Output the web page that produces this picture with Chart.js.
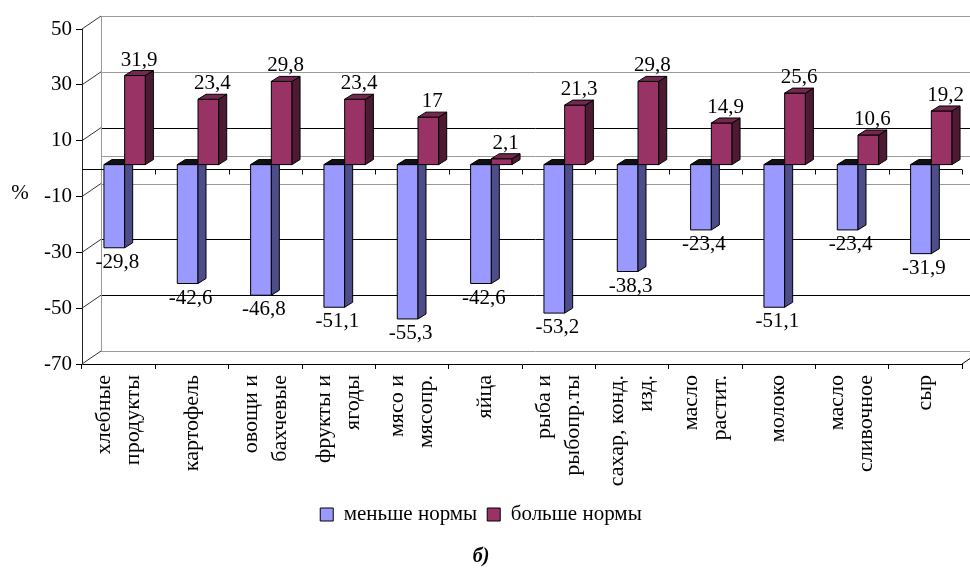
<!DOCTYPE html>
<html>
<head>
<meta charset="utf-8">
<script src="https://cdn.jsdelivr.net/npm/chart.js@4/dist/chart.umd.min.js"></script>
<style>
  html, body { margin: 0; padding: 0; background: #fff; }
  #wrap { width: 970px; height: 569px; }
</style>
</head>
<body>
<div id="wrap"><canvas id="chart" width="970" height="569"></canvas></div>
<script>
// Категории продуктов (подписи оси X, по строкам)
const categories = [
  ["хлебные", "продукты"], ["картофель"], ["овощи и", "бахчевые"], ["фрукты и", "ягоды"],
  ["мясо и", "мясопр."], ["яйца"], ["рыба и", "рыбопр.ты"], ["сахар, конд.", "изд."],
  ["масло", "растит."], ["молоко"], ["масло", "сливочное"], ["сыр"]
];
// Отклонение от нормы потребления, %
const belowNorm = [-29.8, -42.6, -46.8, -51.1, -55.3, -42.6, -53.2, -38.3, -23.4, -51.1, -23.4, -31.9];
const aboveNorm = [31.9, 23.4, 29.8, 23.4, 17, 2.1, 21.3, 29.8, 14.9, 25.6, 10.6, 19.2];
const seriesNames = ["меньше нормы", "больше нормы"];
const yTicks = [-70, -50, -30, -10, 10, 30, 50];
const axisUnit = "%";
const caption = "б)";

const FONT = "\"Liberation Serif\"";
Chart.defaults.font.family = FONT;

// Оформление объёмных столбиков: лицевая грань, боковая, верхняя
const faces = [
  { front: "#9999FF", side: "#4D4D8A", top: "#111111" },
  { front: "#993366", side: "#4C1A33", top: "#75284F" }
];
const BAR_SHIFT = { x: 6, y: -4 };   // смещение ряда столбиков в глубину
const BAR_DEPTH = { x: 8, y: -5 };   // толщина столбика
const WALL = { x: 19, y: -13 };      // смещение задней стенки
const wallLineColor = { "50": "#9a9a9a", "30": "#9a9a9a", "10": "#000", "0": "#9a9a9a",
                        "-10": "#9a9a9a", "-30": "#000", "-50": "#000", "-70": "#9a9a9a" };

const fmt = v => String(v).replace(".", ",");

function poly(ctx, pts, fill) {
  ctx.beginPath();
  ctx.moveTo(pts[0][0], pts[0][1]);
  for (let i = 1; i < pts.length; i++) ctx.lineTo(pts[i][0], pts[i][1]);
  ctx.closePath();
  ctx.fillStyle = fill;
  ctx.fill();
  ctx.stroke();
}

const background = {
  id: "background",
  beforeDraw(chart) {
    const ctx = chart.ctx;
    ctx.save();
    ctx.fillStyle = "#fff";
    ctx.fillRect(0, 0, chart.width, chart.height);
    ctx.restore();
  }
};

const box3d = {
  id: "box3d",
  beforeDatasetsDraw(chart) {
    const ctx = chart.ctx;
    const ys = chart.scales.y;
    const { left, right, bottom } = chart.chartArea;
    const W = chart.width;
    ctx.save();
    ctx.lineWidth = 1;

    // задняя стенка: линии сетки
    const wallVals = yTicks.concat([0]);
    wallVals.forEach(v => {
      const y = Math.round(ys.getPixelForValue(v) + WALL.y) + 0.5;
      ctx.strokeStyle = wallLineColor[String(v)] || "#9a9a9a";
      ctx.beginPath();
      ctx.moveTo(left + WALL.x, y);
      ctx.lineTo(W, y);
      ctx.stroke();
    });
    // левая кромка стенки
    ctx.strokeStyle = "#9a9a9a";
    ctx.beginPath();
    const wx = Math.round(left + WALL.x) + 0.5;
    ctx.moveTo(wx, ys.getPixelForValue(yTicks[yTicks.length - 1]) + WALL.y);
    ctx.lineTo(wx, ys.getPixelForValue(yTicks[0]) + WALL.y);
    ctx.stroke();

    // диагонали боковой стенки у делений оси Y
    ctx.strokeStyle = "#333";
    yTicks.forEach(v => {
      const y = ys.getPixelForValue(v);
      ctx.beginPath();
      ctx.moveTo(left, y);
      ctx.lineTo(left + WALL.x, y + WALL.y);
      ctx.stroke();
    });
    // правая кромка основания
    ctx.strokeStyle = "#000";
    ctx.beginPath();
    ctx.moveTo(right, bottom);
    ctx.lineTo(right + WALL.x, bottom + WALL.y);
    ctx.stroke();

    // нулевая линия с делениями
    const y0 = Math.round(ys.getPixelForValue(0)) + 0.5;
    const n = categories.length;
    const cw = (right - left) / n;
    ctx.strokeStyle = "#000";
    ctx.beginPath();
    ctx.moveTo(left, y0);
    ctx.lineTo(right, y0);
    for (let k = 1; k <= n; k++) {
      const x = Math.round(left + k * cw) + 0.5;
      ctx.moveTo(x, y0);
      ctx.lineTo(x, y0 + 5);
    }
    ctx.stroke();

    // объёмные столбики
    ctx.strokeStyle = "#000";
    ctx.lineJoin = "miter";
    const metas = chart.data.datasets.map((d, i) => chart.getDatasetMeta(i));
    for (let j = 0; j < n; j++) {
      metas.forEach((meta, di) => {
        const el = meta.data[j];
        if (!el) return;
        const f = faces[di];
        const w = el.width;
        const l = el.x - w / 2 + BAR_SHIFT.x;
        const r = el.x + w / 2 + BAR_SHIFT.x;
        const t = Math.min(el.y, el.base) + BAR_SHIFT.y;
        const b = Math.max(el.y, el.base) + BAR_SHIFT.y;
        const dx = BAR_DEPTH.x, dy = BAR_DEPTH.y;
        poly(ctx, [[l, t], [r, t], [r, b], [l, b]], f.front);
        poly(ctx, [[r, t], [r + dx, t + dy], [r + dx, b + dy], [r, b]], f.side);
        poly(ctx, [[l, t], [l + dx, t + dy], [r + dx, t + dy], [r, t]], f.top);
      });
    }

    // подписи значений
    ctx.fillStyle = "#000";
    ctx.font = "21px " + FONT;
    ctx.textAlign = "center";
    ctx.textBaseline = "alphabetic";
    for (let j = 0; j < n; j++) {
      metas.forEach((meta, di) => {
        const el = meta.data[j];
        const v = chart.data.datasets[di].data[j];
        const cx = el.x + BAR_SHIFT.x;
        if (v >= 0) {
          const yTop = el.y + BAR_SHIFT.y + BAR_DEPTH.y;
          ctx.fillText(fmt(v), cx + BAR_DEPTH.x / 2, yTop - 5);
        } else {
          const yBot = el.y + BAR_SHIFT.y;
          ctx.fillText(fmt(v), cx + 3, yBot + 20);
        }
      });
    }
    ctx.restore();
    return false;
  },
  afterDraw(chart) {
    const ctx = chart.ctx;
    const xs = chart.scales.x;
    const ys = chart.scales.y;
    const { bottom } = chart.chartArea;
    ctx.save();
    ctx.fillStyle = "#000";
    ctx.font = "22px " + FONT;
    // подписи категорий, повернутые на 90°
    const lh = 29;
    categories.forEach((lines, i) => {
      const px = xs.getPixelForValue(i);
      lines.forEach((txt, k) => {
        const cx = px + (k - (lines.length - 1) / 2) * lh;
        ctx.save();
        ctx.translate(cx, bottom + 11);
        ctx.rotate(-Math.PI / 2);
        ctx.textAlign = "right";
        ctx.textBaseline = "middle";
        ctx.fillText(txt, 0, 0);
        ctx.restore();
      });
    });
    // единица измерения оси Y
    ctx.font = "21px " + FONT;
    ctx.textAlign = "center";
    ctx.textBaseline = "middle";
    ctx.fillText(axisUnit, 20, ys.getPixelForValue(-10) - 3);
    ctx.restore();
  }
};

new Chart(document.getElementById("chart"), {
  type: "bar",
  data: {
    labels: categories,
    datasets: [
      { label: seriesNames[0], data: belowNorm, backgroundColor: faces[0].front, borderColor: "#000", borderWidth: 1 },
      { label: seriesNames[1], data: aboveNorm, backgroundColor: faces[1].front, borderColor: "#000", borderWidth: 1 }
    ]
  },
  options: {
    responsive: false,
    devicePixelRatio: 1,
    animation: false,
    categoryPercentage: 0.565,
    barPercentage: 1,
    layout: { padding: { top: 29, right: 8, left: 0, bottom: 0 } },
    scales: {
      x: {
        grid: { offset: true, drawOnChartArea: false, drawTicks: true, tickLength: 5, color: "#000" },
        border: { display: true, color: "#000", width: 1 },
        ticks: { display: false },
        afterFit: s => { s.height = 130; }
      },
      y: {
        min: -70, max: 50,
        afterBuildTicks: s => { s.ticks = yTicks.map(v => ({ value: v })); },
        grid: { drawOnChartArea: false, drawTicks: true, tickLength: 6, color: "#000" },
        border: { display: true, color: "#222", width: 1 },
        ticks: { color: "#000", font: { family: FONT, size: 21 }, padding: 4, autoSkip: false },
        afterFit: s => { s.width = 82; }
      }
    },
    plugins: {
      legend: {
        position: "bottom",
        labels: { color: "#000", font: { family: FONT, size: 21 }, boxWidth: 13, boxHeight: 13, padding: 10 }
      },
      title: {
        display: true,
        text: caption,
        position: "bottom",
        color: "#000",
        font: { family: FONT, size: 20, weight: "bold", style: "italic" },
        padding: { top: 10, bottom: 0 }
      },
      tooltip: { enabled: false }
    }
  },
  plugins: [background, box3d]
});
</script>
</body>
</html>
